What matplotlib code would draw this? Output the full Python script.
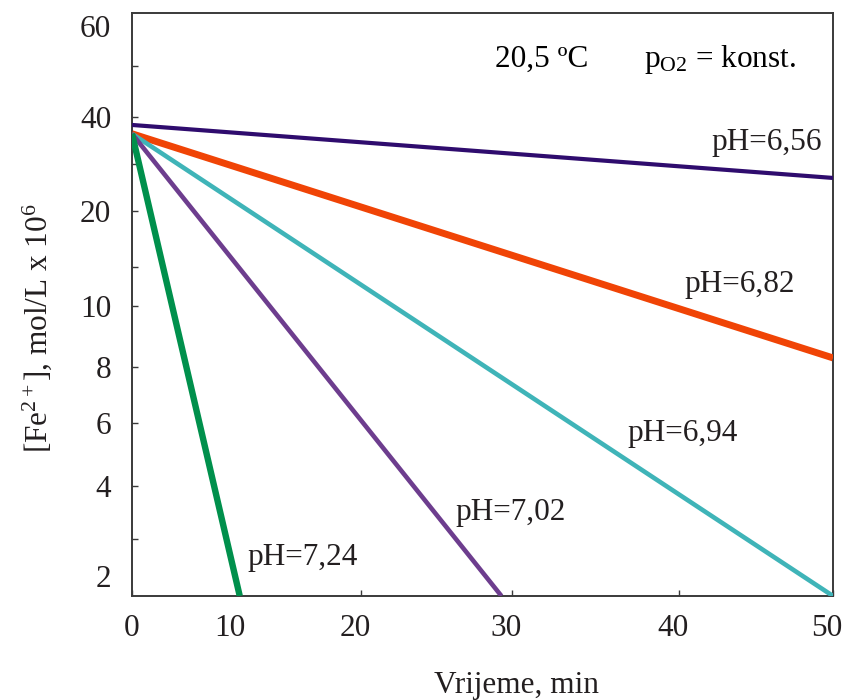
"""Fe(II) oxidation at 20,5 C, constant pO2 -- log [Fe2+] vs time for several pH values."""
import numpy as np
import matplotlib
matplotlib.use("Agg")
import matplotlib.pyplot as plt
from matplotlib.ticker import FixedLocator, FixedFormatter
from matplotlib.transforms import ScaledTranslation

plt.rcParams["font.family"] = ["Liberation Serif", "DejaVu Serif"]
plt.rcParams["mathtext.fontset"] = "custom"
plt.rcParams["mathtext.rm"] = "Liberation Serif"
plt.rcParams["mathtext.it"] = "Liberation Serif:italic"

# data (straight lines, start -> end)
ph_labels = ["pH=6,56", "pH=6,82", "pH=6,94", "pH=7,02", "pH=7,24"]
t_start = [0, 0, 0, 0, 0]
fe_start = [38.1, 36.1, 36.1, 36.1, 36.1]
t_end = [50, 50, 50, 29.3, 10.3]
fe_end = [26.6, 8.27, 1.61, 1.61, 1.61]
colors = ["#2f0c6e", "#f04406", "#3fb4b8", "#6d3d8e", "#00904c"]
widths = [3.0, 5.0, 3.3, 3.3, 4.6]

x_ticks = [0, 10, 20, 30, 40, 50]
y_ticks = [2, 3, 4, 6, 8, 10, 15, 20, 30, 40, 50, 60]
y_ticklabels = ["2", "", "4", "6", "8", "10", "", "20", "", "40", "", "60"]

# the original axes are hand-drawn and not evenly spaced: piecewise scales
X_KNOT_V = np.array([-100, 0, 10, 20, 30, 40, 50, 150], dtype=float)
X_KNOT_P = np.array([-908, 132, 236, 361, 512, 679, 833, 2373], dtype=float)
Y_KNOT_V = np.log10([0.1, 1.61, 2, 3, 4, 6, 8, 10, 15, 20, 30, 40, 50, 60, 63.7, 1000])
Y_KNOT_P = -np.array([849, 596, 576, 539, 486, 423, 367, 306, 267, 211, 164, 117,
                      66, 26, 13, -591], dtype=float)

FS = 22.5


def xf(v):
    return np.interp(v, X_KNOT_V, X_KNOT_P)


def xi(p):
    return np.interp(p, X_KNOT_P, X_KNOT_V)


def yf(v):
    v = np.clip(np.asarray(v, dtype=float), 1e-6, None)
    return np.interp(np.log10(v), Y_KNOT_V, Y_KNOT_P)


def yi(p):
    return 10 ** np.interp(p, Y_KNOT_P, Y_KNOT_V)


W, H = 843, 700
fig = plt.figure(figsize=(W / 100, H / 100), dpi=100)
ax = fig.add_axes([132 / W, 1 - 596 / H, (833 - 132) / W, (596 - 13) / H])
ax.set_xscale("function", functions=(xf, xi))
ax.set_yscale("function", functions=(yf, yi))
ax.set_xlim(0, 50)
ax.set_ylim(1.61, 63.7)

for i in range(len(ph_labels)):
    ax.plot([t_start[i], t_end[i]], [fe_start[i], fe_end[i]], color=colors[i],
            lw=widths[i], solid_capstyle="butt", clip_on=True, zorder=3)

ax.xaxis.set_major_locator(FixedLocator(x_ticks))
ax.xaxis.set_major_formatter(FixedFormatter([str(t) for t in x_ticks]))
ax.yaxis.set_major_locator(FixedLocator(y_ticks))
ax.yaxis.set_major_formatter(FixedFormatter(y_ticklabels))
ax.xaxis.set_minor_locator(FixedLocator([]))
ax.yaxis.set_minor_locator(FixedLocator([]))

ax.tick_params(axis="both", direction="in", length=4.5, width=1.0, color="#3a3a3a",
               labelsize=FS, labelcolor="#231f20", top=False, right=False)
ax.tick_params(axis="x", pad=13)
ax.tick_params(axis="y", pad=15)
for k in (0, len(y_ticks) - 1):
    ax.yaxis.get_major_ticks()[k].tick1line.set_visible(False)
xt = ax.xaxis.get_major_ticks()
xt[1].tick1line.set_visible(False)
shift = ScaledTranslation(-6 / 100, 0, fig.dpi_scale_trans)
for t in xt[1:]:
    t.label1.set_transform(t.label1.get_transform() + shift)

for s in ax.spines.values():
    s.set_color("#3a3a3a")
    s.set_linewidth(1.4)


def axpos(px, py):
    return (px - 132) / (833 - 132), (596 - py) / (596 - 13)


label_px = [(767, 150), (740, 292), (683, 441), (511, 520), (303, 565)]
for txt, (px, py) in zip(ph_labels, label_px):
    ax.text(*axpos(px, py), txt, transform=ax.transAxes, ha="center",
            va="baseline", fontsize=FS, color="#231f20")

ax.text(*axpos(542, 67), "20,5 ºC", transform=ax.transAxes, ha="center",
        va="baseline", fontsize=FS, color="#000000")
ax.text(*axpos(720, 67), r"p$_{\mathrm{O2}}$ = konst.", transform=ax.transAxes,
        ha="center", va="baseline", fontsize=FS, color="#000000")

fig.text(37 / W, 1 - 328 / H, r"[Fe$^{2+}$], mol/L x 10$^{6}$", rotation=90,
         ha="center", va="center", fontsize=FS, color="#231f20")
fig.text(516 / W, 1 - 685 / H, "Vrijeme, min", ha="center", va="center",
         fontsize=FS, color="#231f20")

fig.savefig("out.png", dpi=100)
